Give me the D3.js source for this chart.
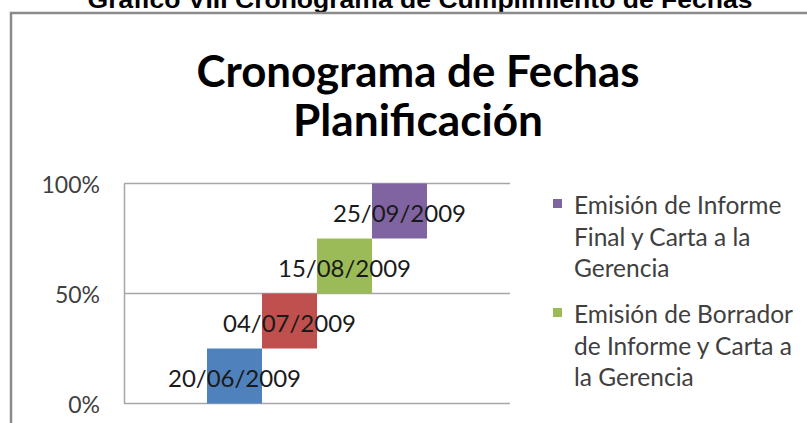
<!DOCTYPE html>
<html>
<head>
<meta charset="utf-8">
<script src="https://cdn.jsdelivr.net/npm/d3@7"></script>
<style>
  html, body { margin: 0; padding: 0; background: #fff; }
  svg { display: block; }
</style>
</head>
<body>
<svg id="chart" width="807" height="423"></svg>
<script>
// ---- data ----
const categories = ["20/06/2009", "04/07/2009", "15/08/2009", "25/09/2009"];
const startValues = [0, 25, 50, 75];
const endValues = [25, 50, 75, 100];
const barColors = ["#4F81BD", "#C0504D", "#9BBB59", "#8064A2"];
const yTicks = [0, 50, 100];
const legendNames = [
  ["Emisión de Informe", "Final y Carta a la", "Gerencia"],
  ["Emisión de Borrador", "de Informe y Carta a", "la Gerencia"]
];
const legendColors = ["#8064A2", "#9BBB59"];
const pageTitle = "Gráfico VIII Cronograma de Cumplimiento de Fechas";
const chartTitle = ["Cronograma de Fechas", "Planificación"];

// ---- layout ----
const svg = d3.select("#chart");
const plot = { left: 124, right: 510, top: 183.5, bottom: 403.5 };
const barRange = [207, 427];

const y = d3.scaleLinear().domain([0, 100]).range([plot.bottom, plot.top]);
const x = d3.scaleBand().domain(categories).range(barRange).padding(0);

// page title (cut off at top, as in the source)
svg.append("text")
  .attr("x", 420).attr("y", 8)
  .attr("text-anchor", "middle")
  .attr("font-family", "Liberation Sans, Arial, sans-serif")
  .attr("font-weight", "bold")
  .attr("font-size", 24)
  .attr("textLength", 665).attr("lengthAdjust", "spacingAndGlyphs")
  .attr("fill", "#000")
  .text(pageTitle);

// chart frame
svg.append("rect")
  .attr("x", 11).attr("y", 13)
  .attr("width", 820).attr("height", 430)
  .attr("fill", "#fff")
  .attr("stroke", "#8a8a8a").attr("stroke-width", 2.5);

// chart title
const tt = svg.append("g")
  .attr("font-family", "Lato, Carlito, Calibri, sans-serif")
  .attr("font-weight", "bold")
  .attr("font-size", 44)
  .attr("fill", "#000")
  .attr("text-anchor", "middle");
tt.append("text").attr("x", 418).attr("y", 87)
  .attr("textLength", 443).attr("lengthAdjust", "spacingAndGlyphs")
  .text(chartTitle[0]);
tt.append("text").attr("x", 418).attr("y", 136)
  .attr("textLength", 250).attr("lengthAdjust", "spacingAndGlyphs")
  .text(chartTitle[1]);

// gridlines
svg.append("g")
  .selectAll("line")
  .data(yTicks)
  .join("line")
  .attr("x1", plot.left).attr("x2", plot.right)
  .attr("y1", d => y(d)).attr("y2", d => y(d))
  .attr("stroke", "#a6a6a6").attr("stroke-width", 1.5);

// y axis
const yAxis = d3.axisLeft(y).tickValues(yTicks).tickFormat(d => d + "%").tickSize(0).tickPadding(24);
const ya = svg.append("g").attr("transform", `translate(${plot.left},0)`).call(yAxis);
ya.select(".domain").attr("stroke", "#a6a6a6").attr("stroke-width", 1.5);
ya.selectAll("text")
  .attr("font-family", "Lato, Carlito, Calibri, sans-serif")
  .attr("font-size", 23)
  .attr("fill", "#404040")
  .attr("dy", "0.38em");

// bars
svg.append("g")
  .selectAll("rect")
  .data(categories)
  .join("rect")
  .attr("x", d => x(d))
  .attr("width", x.bandwidth())
  .attr("y", (d, i) => y(endValues[i]))
  .attr("height", (d, i) => y(startValues[i]) - y(endValues[i]))
  .attr("fill", (d, i) => barColors[i]);

// data labels
svg.append("g")
  .selectAll("text")
  .data(categories)
  .join("text")
  .attr("x", d => x(d) + x.bandwidth() / 2)
  .attr("y", (d, i) => y((startValues[i] + endValues[i]) / 2) + 11)
  .attr("text-anchor", "middle")
  .attr("font-family", "Lato, Carlito, Calibri, sans-serif")
  .attr("font-size", 24)
  .attr("fill", "#1a1a1a")
  .text(d => d);

// legend
const lg = svg.append("g")
  .attr("font-family", "Lato, Carlito, Calibri, sans-serif")
  .attr("font-size", 24.5)
  .attr("fill", "#404040");
const legendTop = [214, 323];
legendNames.forEach((lines, i) => {
  lg.append("rect")
    .attr("x", 553).attr("y", legendTop[i] - 15)
    .attr("width", 9).attr("height", 9)
    .attr("fill", legendColors[i]);
  lines.forEach((ln, j) => {
    lg.append("text")
      .attr("x", 574).attr("y", legendTop[i] + j * 31.5)
      .text(ln);
  });
});
</script>
</body>
</html>
